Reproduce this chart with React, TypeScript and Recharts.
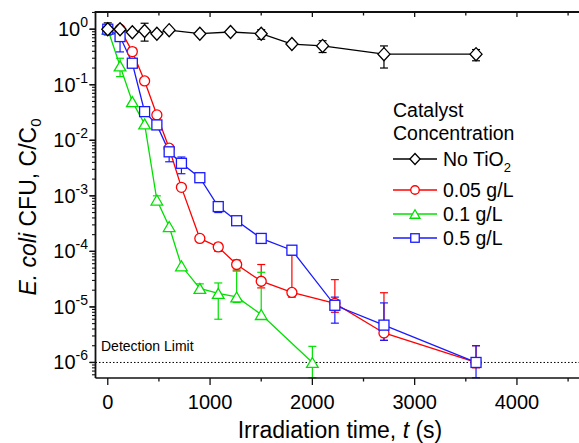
import React from 'react';
import { LineChart, Line, XAxis, YAxis, ErrorBar, ReferenceLine } from 'recharts';

// irradiation time (s) and C/C0 per catalyst concentration
const tNoTiO2 = [0, 120, 240, 360, 480, 600, 900, 1200, 1500, 1800, 2100, 2700, 3600];
const cNoTiO2 = [1.0, 1.0, 0.88, 0.93, 0.83, 0.96, 0.83, 0.89, 0.83, 0.54, 0.5, 0.355, 0.355];
const eNoTiO2: ([number, number] | null)[] = [
  [0.79, 1.3], null, null, [0.61, 1.28], null, null, null, null, [0.66, 0.98], null, [0.38, 0.62], [0.2, 0.5], [0.27, 0.43],
];

const t005 = [0, 120, 240, 360, 480, 600, 720, 900, 1080, 1260, 1500, 1800, 2220, 2700, 3600];
const c005 = [1.0, 1.0, 0.395, 0.117, 0.0286, 0.0072, 0.00142, 1.71e-4, 1.2e-4, 5.8e-5, 2.9e-5, 1.82e-5, 1.16e-5, 3.4e-6, 1.0e-6];
const e005: ([number, number] | null)[] = [
  null, null, [0.34, 0.46], null, null, null, null, null, [1.0e-4, 1.4e-4], [4.6e-5, 7.0e-5], [2.2e-5, 5.8e-5], [1.5e-5, 8.5e-5], [8e-6, 3.1e-5], [2.5e-6, 1.8e-5], [8e-7, 2e-6],
];

const t01 = [0, 120, 240, 360, 480, 600, 720, 900, 1080, 1260, 1500, 2000];
const c01 = [1.0, 0.218, 0.0496, 0.0197, 8.4e-4, 2.8e-4, 5.5e-5, 2.15e-5, 1.75e-5, 1.51e-5, 7.3e-6, 1.0e-6];
const e01: ([number, number] | null)[] = [
  null, [0.14, 0.3], null, null, [7e-4, 1e-3], null, null, [1.8e-5, 2.6e-5], [6e-6, 2.7e-5], [1.2e-5, 4.4e-5], [6e-6, 4.2e-5], [5.3e-7, 1.95e-6],
];

const t05 = [0, 120, 240, 360, 480, 600, 720, 900, 1080, 1260, 1500, 1800, 2220, 2700, 3600];
const c05 = [1.0, 0.736, 0.244, 0.0328, 0.0189, 0.0062, 0.00385, 0.00212, 6.4e-4, 3.56e-4, 1.71e-4, 1.05e-4, 1.07e-5, 4.7e-6, 1.0e-6];
const e05: ([number, number] | null)[] = [
  null, [0.39, 0.97], null, [0.028, 0.038], [0.016, 0.022], [0.0041, 0.0066], [0.0025, 0.005], [0.0019, 0.0024], [5e-4, 7e-4], [3.2e-4, 4e-4], [1.55e-4, 1.9e-4], [9e-5, 1.2e-4], [5.1e-6, 1.5e-5], [2.5e-6, 1.18e-5], [5.3e-7, 2e-6],
];

const xTicks = [0, 500, 1000, 1500, 2000, 2500, 3000, 3500, 4000, 4500];
const yMajorTicks = [1e-6, 1e-5, 1e-4, 1e-3, 1e-2, 1e-1, 1];
const yMinorSteps = [2, 3, 4, 5, 6, 7, 8, 9];
const yDecades = [1e-7, 1e-6, 1e-5, 1e-4, 1e-3, 1e-2, 1e-1, 1];

const X_DOMAIN: [number, number] = [-120, 4720];
const Y_DOMAIN: [number, number] = [5.25e-7, 2.04];
const yMinorTicks = yDecades
  .flatMap((d) => yMinorSteps.map((m) => m * d))
  .filter((v) => v > Y_DOMAIN[0] && v < Y_DOMAIN[1]);

const FONT = '"Liberation Sans", Arial, Helvetica, sans-serif';
const W = 640;
const H = 443;
const PLOT_LEFT = 95.5;
const PLOT_TOP = 12;
const PLOT_BOTTOM = 378;
const PLOT_W = 495.1;
const BOTTOM_AXIS_H = 30;
const FRAME = '#111';

// same linear / log mapping as the chart's axes, used for the frame ticks
const PX_PER_X = PLOT_W / (X_DOMAIN[1] - X_DOMAIN[0]);
const PX_PER_DECADE = (PLOT_BOTTOM - PLOT_TOP) / Math.log10(Y_DOMAIN[1] / Y_DOMAIN[0]);
const xPx = (v: number) => PLOT_LEFT + (v - X_DOMAIN[0]) * PX_PER_X;
const yPx = (v: number) => PLOT_TOP + Math.log10(Y_DOMAIN[1] / v) * PX_PER_DECADE;

type Shape = 'diamond' | 'circle' | 'triangle' | 'square';

const Marker = ({ cx, cy, shape, color, s = 1 }: { cx: number; cy: number; shape: Shape; color: string; s?: number }) => {
  const common = { fill: '#fff', stroke: color, strokeWidth: 1.3 };
  if (shape === 'diamond') {
    const w = 6 * s, h = 6.5 * s;
    return <polygon points={`${cx},${cy - h} ${cx + w},${cy} ${cx},${cy + h} ${cx - w},${cy}`} {...common} />;
  }
  if (shape === 'circle') return <circle cx={cx} cy={cy} r={5 * s} {...common} />;
  if (shape === 'triangle') {
    const w = 5.8 * s, h = 5 * s;
    return <polygon points={`${cx},${cy - h} ${cx + w},${cy + h} ${cx - w},${cy + h}`} {...common} />;
  }
  const a = 5 * s;
  return <rect x={cx - a} y={cy - a} width={2 * a} height={2 * a} {...common} />;
};

const toRows = (t: number[], c: number[]) => t.map((x, i) => ({ t: x, c: c[i] }));
const toErrRows = (t: number[], c: number[], e: ([number, number] | null)[]) =>
  t
    .map((x, i) => (e[i] ? { t: x, c: c[i], err: [c[i] - e[i]![0], e[i]![1] - c[i]] } : null))
    .filter(Boolean) as { t: number; c: number; err: number[] }[];

const series = [
  { key: 's005', name: '0.05 g/L', color: '#ff0000', shape: 'circle' as Shape, rows: toRows(t005, c005), errs: toErrRows(t005, c005, e005) },
  { key: 's01', name: '0.1 g/L', color: '#00e000', shape: 'triangle' as Shape, rows: toRows(t01, c01), errs: toErrRows(t01, c01, e01) },
  { key: 's05', name: '0.5 g/L', color: '#1a1aff', shape: 'square' as Shape, rows: toRows(t05, c05), errs: toErrRows(t05, c05, e05) },
  { key: 'sNo', name: 'No TiO2', color: '#000000', shape: 'diamond' as Shape, rows: toRows(tNoTiO2, cNoTiO2), errs: toErrRows(tNoTiO2, cNoTiO2, eNoTiO2) },
];

const legendOrder = ['sNo', 's005', 's01', 's05'];
const legendRowsY = [159, 190, 214, 238];

const BottomTick = ({ x, payload }: any) => {
  const v = payload.value;
  const major = v % 1000 === 0;
  return (
    <g>
      <line x1={x} x2={x} y1={PLOT_BOTTOM} y2={PLOT_BOTTOM + (major ? 7 : 3.5)} stroke={FRAME} strokeWidth={1.3} />
      {major && (
        <text x={x} y={PLOT_BOTTOM + 31} textAnchor="middle" fontSize={20} fontFamily={FONT} fill="#000">
          {v}
        </text>
      )}
    </g>
  );
};

const decadeLabel = (v: number) => (props: any) => {
  const exp = Math.round(Math.log10(v));
  const y = props.viewBox?.y ?? 0;
  return (
    <text x={88} y={y + 7} textAnchor="end" fontSize={20} fontFamily={FONT} fill="#000">
      10
      <tspan dy={-9} fontSize={14}>
        {exp === 0 ? '0' : `-${-exp}`}
      </tspan>
    </text>
  );
};

const DetectionLabel = ({ viewBox }: any) => (
  <text x={101} y={viewBox.y - 11} fontSize={14} fontFamily={FONT} fill="#000">
    Detection Limit
  </text>
);

const Overlay = () => (
  <svg width={579} height={443} style={{ position: 'absolute', left: 0, top: 0, zIndex: 10, pointerEvents: 'none' }}>
    {/* left and top frame with their ticks */}
    <path
      d={`M ${PLOT_LEFT} ${PLOT_BOTTOM} L ${PLOT_LEFT} ${PLOT_TOP} L 579 ${PLOT_TOP}`}
      fill="none"
      stroke={FRAME}
      strokeWidth={1.8}
    />
    {yMajorTicks.map((v) => (
      <line key={`lm-${v}`} x1={PLOT_LEFT - 6} x2={PLOT_LEFT} y1={yPx(v)} y2={yPx(v)} stroke={FRAME} strokeWidth={1.3} />
    ))}
    {yMinorTicks.map((v) => (
      <line key={`ln-${v}`} x1={PLOT_LEFT - 3.5} x2={PLOT_LEFT} y1={yPx(v)} y2={yPx(v)} stroke={FRAME} strokeWidth={1.1} />
    ))}
    {xTicks.map((v) => (
      <line key={`tt-${v}`} x1={xPx(v)} x2={xPx(v)} y1={PLOT_TOP} y2={PLOT_TOP + (v % 1000 === 0 ? 5 : 3.5)} stroke={FRAME} strokeWidth={1.3} />
    ))}

    <text x={393} y={117} fontSize={19.5} fontFamily={FONT} fill="#000">
      Catalyst
    </text>
    <text x={393} y={140} fontSize={19.5} fontFamily={FONT} fill="#000">
      Concentration
    </text>
    {legendOrder.map((k, i) => {
      const s = series.find((d) => d.key === k)!;
      const y = legendRowsY[i];
      return (
        <g key={k}>
          <line x1={393} x2={437} y1={y} y2={y} stroke={s.color} strokeWidth={1.3} />
          <Marker cx={415} cy={y} shape={s.shape} color={s.color} s={0.85} />
          <text x={443} y={y + 7} fontSize={19.5} fontFamily={FONT} fill="#000">
            {k === 'sNo' ? (
              <>
                No TiO
                <tspan dy={6} fontSize={13}>2</tspan>
              </>
            ) : (
              s.name
            )}
          </text>
        </g>
      );
    })}
    <text x={340} y={438} textAnchor="middle" fontSize={23} fontFamily={FONT} fill="#000">
      Irradiation time, <tspan fontStyle="italic">t</tspan> (s)
    </text>
    <text x={36} y={207} transform="rotate(-90 36 207)" textAnchor="middle" fontSize={23} fontFamily={FONT} fill="#000">
      <tspan fontStyle="italic">E. coli</tspan>
      <tspan> CFU, C/C</tspan>
      <tspan dy={5} fontSize={15}>0</tspan>
    </text>
  </svg>
);

export default function App() {
  return (
    <div style={{ position: 'absolute', left: 0, top: 0, width: 579, height: 443, overflow: 'hidden', background: '#fff' }}>
      <LineChart
        width={W}
        height={H}
        margin={{ top: PLOT_TOP, right: W - PLOT_LEFT - PLOT_W, bottom: H - PLOT_BOTTOM - BOTTOM_AXIS_H, left: 0 }}
      >
        <XAxis
          dataKey="t"
          type="number"
          domain={X_DOMAIN}
          ticks={xTicks}
          interval={0}
          height={BOTTOM_AXIS_H}
          tickLine={{ stroke: 'none' }}
          tick={<BottomTick />}
          axisLine={{ stroke: FRAME, strokeWidth: 1.5 }}
          allowDataOverflow
        />
        <YAxis
          type="number"
          scale="log"
          domain={Y_DOMAIN}
          width={PLOT_LEFT}
          tick={false}
          tickLine={false}
          axisLine={false}
          allowDataOverflow
        />

        {/* decade labels on the left axis */}
        {yMajorTicks.map((v) => (
          <ReferenceLine
            key={`ymaj-${v}`}
            segment={[{ x: X_DOMAIN[0] - 6 / PX_PER_X, y: v }, { x: X_DOMAIN[0], y: v }]}
            stroke={FRAME}
            strokeWidth={1.2}
            ifOverflow="visible"
            label={decadeLabel(v)}
          />
        ))}

        <ReferenceLine y={1e-6} stroke="#000" strokeWidth={1} strokeDasharray="1.5 2" label={<DetectionLabel />} />

        {series.map((s) => (
          <Line
            key={s.key}
            data={s.rows}
            dataKey="c"
            name={s.name}
            stroke={s.color}
            strokeWidth={1.3}
            isAnimationActive={false}
            dot={(p: any) => <Marker key={`${s.key}-${p.index}`} cx={p.cx} cy={p.cy} shape={s.shape} color={s.color} />}
            activeDot={false}
          />
        ))}
        {series.map((s) => (
          <Line
            key={`${s.key}-err`}
            data={s.errs}
            dataKey="c"
            stroke="none"
            dot={false}
            activeDot={false}
            isAnimationActive={false}
            legendType="none"
          >
            <ErrorBar dataKey="err" direction="y" width={4} stroke={s.color} strokeWidth={1.2} isAnimationActive={false} />
          </Line>
        ))}
      </LineChart>
      <Overlay />
    </div>
  );
}
